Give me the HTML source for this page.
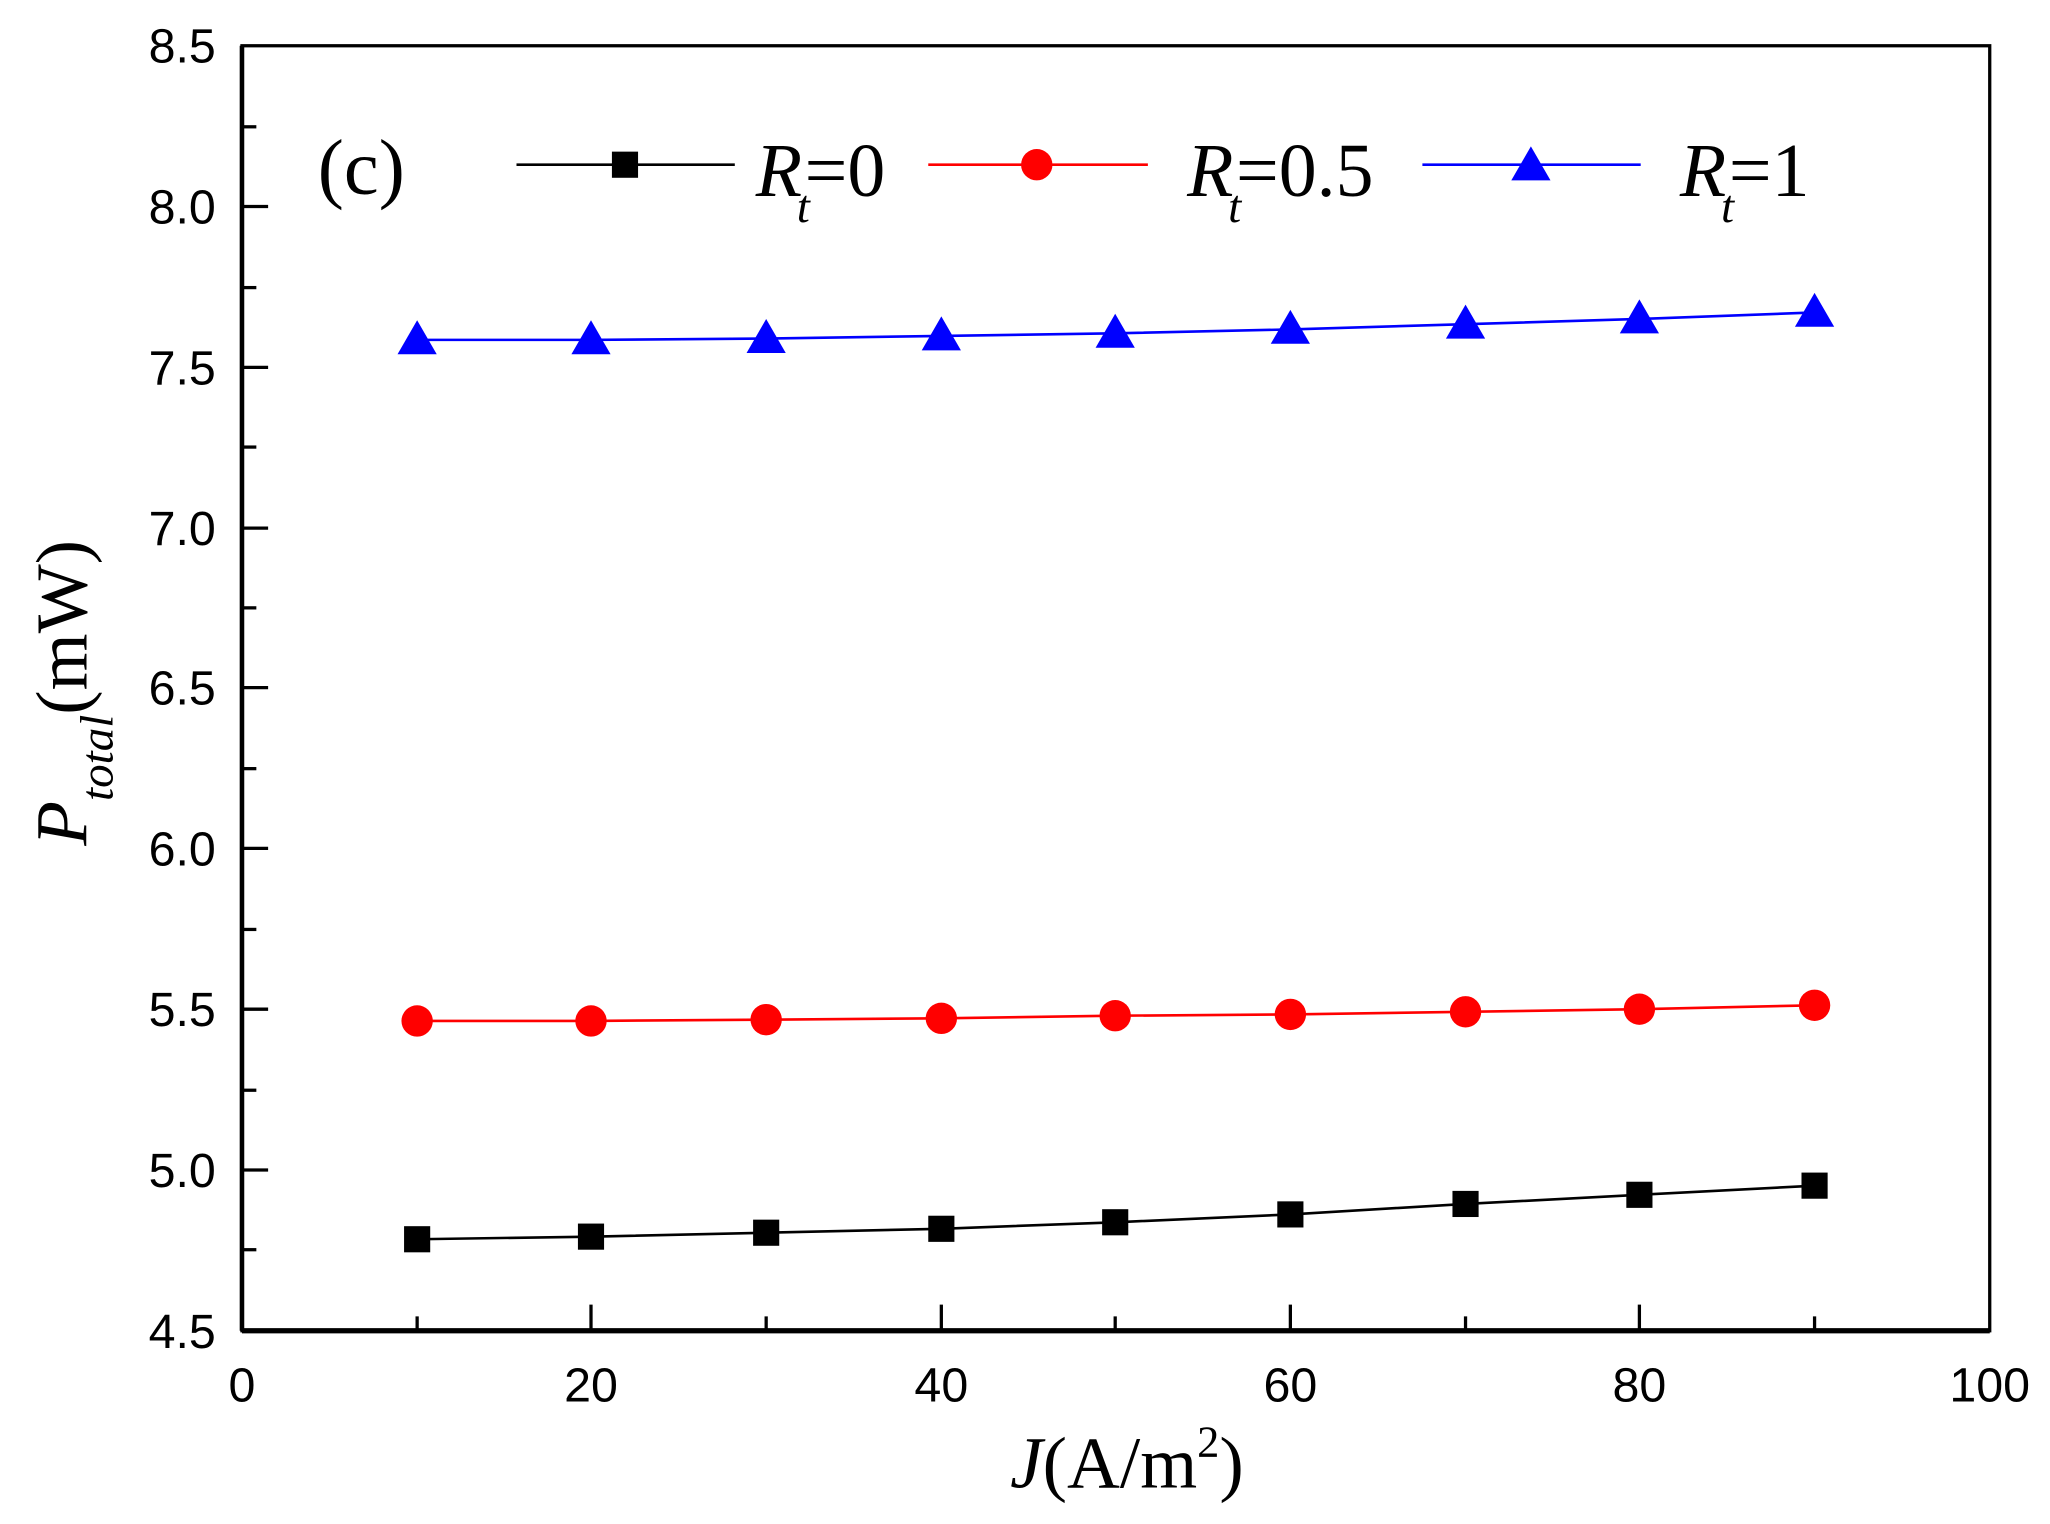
<!DOCTYPE html>
<html><head><style>html,body{margin:0;padding:0;background:#fff}</style></head>
<body>
<svg width="2050" height="1519" viewBox="0 0 1568 1162" xmlns="http://www.w3.org/2000/svg">
<rect width="1568" height="1162" fill="#fff"/>
<g stroke="#000" fill="none">
<rect x="185" y="35" width="1337" height="983" stroke-width="2.5"/>
<line x1="185" y1="1018" x2="1522" y2="1018" stroke-width="4"/>
<line x1="185" y1="35" x2="185" y2="1018" stroke-width="3.5"/>
</g>
<g stroke="#000" stroke-width="2.5">
<line x1="185" y1="158" x2="205" y2="158"/><line x1="185" y1="281" x2="205" y2="281"/>
<line x1="185" y1="404" x2="205" y2="404"/><line x1="185" y1="526" x2="205" y2="526"/>
<line x1="185" y1="649" x2="205" y2="649"/><line x1="185" y1="772" x2="205" y2="772"/>
<line x1="185" y1="895" x2="205" y2="895"/>
<line x1="185" y1="97" x2="196" y2="97"/><line x1="185" y1="220" x2="196" y2="220"/>
<line x1="185" y1="342" x2="196" y2="342"/><line x1="185" y1="465" x2="196" y2="465"/>
<line x1="185" y1="588" x2="196" y2="588"/><line x1="185" y1="711" x2="196" y2="711"/>
<line x1="185" y1="834" x2="196" y2="834"/><line x1="185" y1="956" x2="196" y2="956"/>
<line x1="452" y1="1018" x2="452" y2="998"/><line x1="720" y1="1018" x2="720" y2="998"/>
<line x1="987" y1="1018" x2="987" y2="998"/><line x1="1254" y1="1018" x2="1254" y2="998"/>
<line x1="319" y1="1018" x2="319" y2="1007"/><line x1="586" y1="1018" x2="586" y2="1007"/>
<line x1="853" y1="1018" x2="853" y2="1007"/><line x1="1121" y1="1018" x2="1121" y2="1007"/>
<line x1="1388" y1="1018" x2="1388" y2="1007"/>
</g>
<g font-family="Liberation Sans, sans-serif" font-size="37" fill="#000" text-anchor="end">
<text x="165" y="48">8.5</text><text x="165" y="171">8.0</text><text x="165" y="294">7.5</text>
<text x="165" y="417">7.0</text><text x="165" y="539">6.5</text><text x="165" y="662">6.0</text>
<text x="165" y="785">5.5</text><text x="165" y="908">5.0</text><text x="165" y="1031">4.5</text>
</g>
<g font-family="Liberation Sans, sans-serif" font-size="37" fill="#000" text-anchor="middle">
<text x="185" y="1072">0</text><text x="452" y="1072">20</text><text x="720" y="1072">40</text>
<text x="987" y="1072">60</text><text x="1254" y="1072">80</text><text x="1522" y="1072">100</text>
</g>
<polyline fill="none" stroke="#000" stroke-width="2" points="319,948 452,946 586,943 720,940 853,935 987,929 1121,921 1254,914 1388,907"/>
<g fill="#000">
<rect x="309" y="938" width="20" height="20"/><rect x="442" y="936" width="20" height="20"/>
<rect x="576" y="933" width="20" height="20"/><rect x="710" y="930" width="20" height="20"/>
<rect x="843" y="925" width="20" height="20"/><rect x="977" y="919" width="20" height="20"/>
<rect x="1111" y="911" width="20" height="20"/><rect x="1244" y="904" width="20" height="20"/>
<rect x="1378" y="897" width="20" height="20"/>
</g>
<polyline fill="none" stroke="#f00" stroke-width="2" points="319,781 452,781 586,780 720,779 853,777 987,776 1121,774 1254,772 1388,769"/>
<g fill="#f00">
<circle cx="319" cy="781" r="12"/><circle cx="452" cy="781" r="12"/><circle cx="586" cy="780" r="12"/>
<circle cx="720" cy="779" r="12"/><circle cx="853" cy="777" r="12"/><circle cx="987" cy="776" r="12"/>
<circle cx="1121" cy="774" r="12"/><circle cx="1254" cy="772" r="12"/><circle cx="1388" cy="769" r="12"/>
</g>
<polyline fill="none" stroke="#00f" stroke-width="2" points="319,260 452,260 586,259 720,257 853,255 987,252 1121,248 1254,244 1388,239"/>
<g fill="#00f">
<path d="M319,245 l15,26 h-30z"/><path d="M452,245 l15,26 h-30z"/><path d="M586,244 l15,26 h-30z"/>
<path d="M720,242 l15,26 h-30z"/><path d="M853,240 l15,26 h-30z"/><path d="M987,237 l15,26 h-30z"/>
<path d="M1121,233 l15,26 h-30z"/><path d="M1254,229 l15,26 h-30z"/><path d="M1388,224 l15,26 h-30z"/>
</g>
<text x="243" y="148" font-family="Liberation Serif, serif" font-size="60">(c)</text>
<line x1="395" y1="126" x2="562" y2="126" stroke="#000" stroke-width="2"/>
<rect x="468" y="116" width="20" height="20" fill="#000"/>
<line x1="710" y1="126" x2="878" y2="126" stroke="#f00" stroke-width="2"/>
<circle cx="793" cy="126" r="12" fill="#f00"/>
<line x1="1088" y1="126" x2="1255" y2="126" stroke="#00f" stroke-width="2"/>
<path d="M1171,112 l15,26 h-30z" fill="#00f"/>
<g font-family="Liberation Serif, serif" font-size="58" fill="#000">
<text x="578" y="150"><tspan font-style="italic">R</tspan><tspan font-style="italic" font-size="36" dy="20" dx="-4">t</tspan><tspan dy="-20" dx="-4">=0</tspan></text>
<text x="908" y="150"><tspan font-style="italic">R</tspan><tspan font-style="italic" font-size="36" dy="20" dx="-4">t</tspan><tspan dy="-20" dx="-4">=0.5</tspan></text>
<text x="1285" y="150"><tspan font-style="italic">R</tspan><tspan font-style="italic" font-size="36" dy="20" dx="-4">t</tspan><tspan dy="-20" dx="-4">=1</tspan></text>
</g>
<text transform="translate(66,530) rotate(-90)" text-anchor="middle" font-family="Liberation Serif, serif" font-size="56" fill="#000"><tspan font-style="italic">P</tspan><tspan font-style="italic" font-size="36" dy="20">total</tspan><tspan dy="-20">(mW)</tspan></text>
<text x="862" y="1138" text-anchor="middle" font-family="Liberation Serif, serif" font-size="56" fill="#000"><tspan font-style="italic">J</tspan>(A/m<tspan font-size="34" dy="-24">2</tspan><tspan dy="24">)</tspan></text>
</svg>
</body></html>
